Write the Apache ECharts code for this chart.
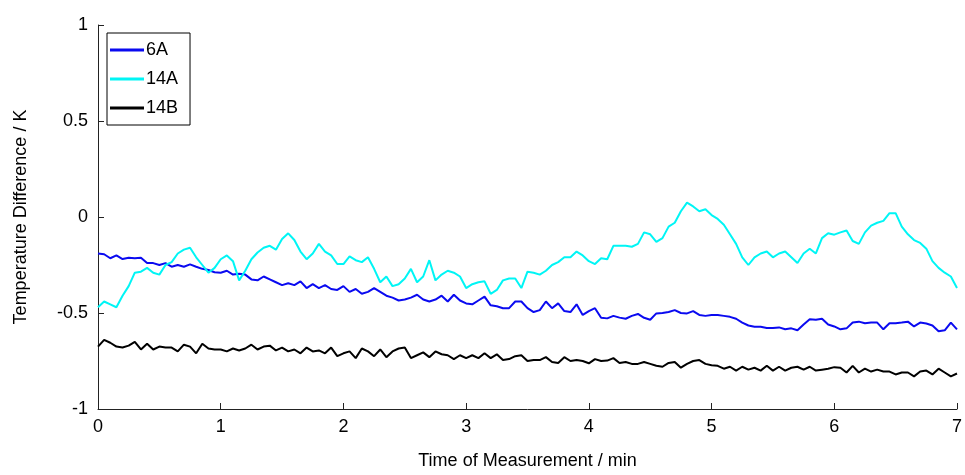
<!DOCTYPE html>
<html>
<head>
<meta charset="utf-8">
<script src="https://cdn.jsdelivr.net/npm/echarts@6/dist/echarts.min.js"></script>
<style>
    html, body { margin: 0; padding: 0; background: #fff; }
    #chart { width: 965px; height: 475px; }
</style>
</head>
<body>
<div id="chart"></div>
<script>
    // sampling every 0.05 min, 0 .. 7
    var timeStep = 0.05;
    var yTicks = ['-1', '-0.5', '0', '0.5', '1'];
    var seriesNames = ['6A', '14A', '14B'];

    var data6A = [
        -0.19,-0.194,-0.215,-0.20,-0.219,-0.212,-0.215,-0.212,-0.24,-0.24,-0.25,-0.24,-0.259,-0.25,-0.259,-0.247,-0.259,-0.27,-0.276,-0.288,-0.29,
        -0.28,-0.30,-0.295,-0.30,-0.325,-0.33,-0.31,-0.325,-0.34,-0.355,-0.345,-0.355,-0.335,-0.37,-0.35,-0.37,-0.355,-0.375,-0.38,-0.36,
        -0.39,-0.375,-0.40,-0.39,-0.37,-0.39,-0.41,-0.42,-0.435,-0.43,-0.42,-0.405,-0.43,-0.44,-0.43,-0.41,-0.44,-0.405,-0.435,-0.45,
        -0.455,-0.435,-0.415,-0.46,-0.465,-0.475,-0.475,-0.44,-0.44,-0.475,-0.495,-0.485,-0.44,-0.475,-0.45,-0.49,-0.495,-0.455,-0.51,-0.49,
        -0.475,-0.525,-0.528,-0.515,-0.524,-0.53,-0.515,-0.505,-0.525,-0.535,-0.502,-0.50,-0.495,-0.485,-0.50,-0.502,-0.49,-0.51,-0.515,-0.51,
        -0.51,-0.515,-0.52,-0.53,-0.55,-0.565,-0.572,-0.572,-0.578,-0.578,-0.575,-0.585,-0.58,-0.59,-0.56,-0.532,-0.535,-0.53,-0.56,-0.57,
        -0.585,-0.58,-0.55,-0.545,-0.553,-0.55,-0.55,-0.585,-0.553,-0.553,-0.55,-0.545,-0.57,-0.55,-0.555,-0.565,-0.595,-0.59,-0.55,-0.585
    ];
    var data14A = [
        -0.47,-0.44,-0.455,-0.47,-0.41,-0.36,-0.29,-0.285,-0.265,-0.29,-0.30,-0.25,-0.235,-0.19,-0.17,-0.16,-0.21,-0.25,-0.29,-0.265,-0.22,
        -0.20,-0.23,-0.33,-0.28,-0.22,-0.185,-0.16,-0.15,-0.17,-0.115,-0.085,-0.12,-0.18,-0.22,-0.19,-0.14,-0.18,-0.20,-0.245,-0.245,
        -0.205,-0.225,-0.235,-0.21,-0.27,-0.34,-0.31,-0.36,-0.35,-0.32,-0.27,-0.34,-0.31,-0.225,-0.33,-0.30,-0.28,-0.29,-0.31,-0.37,
        -0.35,-0.34,-0.335,-0.40,-0.38,-0.33,-0.32,-0.32,-0.37,-0.285,-0.29,-0.30,-0.28,-0.25,-0.235,-0.21,-0.21,-0.18,-0.20,-0.23,
        -0.245,-0.215,-0.22,-0.15,-0.15,-0.15,-0.155,-0.14,-0.08,-0.09,-0.13,-0.11,-0.05,-0.03,0.03,0.075,0.055,0.03,0.04,0.01,
        -0.01,-0.04,-0.09,-0.14,-0.21,-0.25,-0.21,-0.19,-0.18,-0.21,-0.19,-0.18,-0.21,-0.24,-0.19,-0.165,-0.19,-0.11,-0.085,-0.092,
        -0.08,-0.07,-0.125,-0.14,-0.08,-0.045,-0.03,-0.02,0.02,0.02,-0.05,-0.09,-0.12,-0.135,-0.165,-0.23,-0.265,-0.29,-0.31,-0.37
    ];
    var data14B = [
        -0.675,-0.64,-0.655,-0.675,-0.68,-0.67,-0.65,-0.69,-0.66,-0.69,-0.675,-0.68,-0.68,-0.70,-0.665,-0.675,-0.71,-0.66,-0.685,-0.69,-0.69,
        -0.70,-0.685,-0.695,-0.685,-0.665,-0.69,-0.675,-0.67,-0.695,-0.68,-0.70,-0.69,-0.71,-0.68,-0.70,-0.695,-0.71,-0.68,-0.725,-0.71,
        -0.70,-0.735,-0.685,-0.70,-0.725,-0.69,-0.73,-0.70,-0.685,-0.68,-0.735,-0.72,-0.705,-0.73,-0.70,-0.715,-0.72,-0.74,-0.72,-0.735,
        -0.72,-0.735,-0.71,-0.735,-0.715,-0.745,-0.74,-0.725,-0.72,-0.75,-0.745,-0.745,-0.73,-0.755,-0.76,-0.73,-0.75,-0.745,-0.75,-0.762,
        -0.74,-0.75,-0.748,-0.735,-0.76,-0.755,-0.765,-0.765,-0.755,-0.765,-0.775,-0.78,-0.76,-0.755,-0.785,-0.765,-0.75,-0.745,-0.765,-0.772,
        -0.775,-0.79,-0.78,-0.80,-0.78,-0.795,-0.785,-0.80,-0.775,-0.80,-0.78,-0.80,-0.785,-0.78,-0.795,-0.78,-0.80,-0.795,-0.79,-0.782,
        -0.785,-0.81,-0.775,-0.81,-0.79,-0.805,-0.795,-0.805,-0.805,-0.82,-0.81,-0.81,-0.83,-0.805,-0.80,-0.82,-0.79,-0.81,-0.83,-0.815
    ];

    function toPairs(values) {
        return values.map(function (v, i) {
            return [+(i * timeStep).toFixed(2), v];
        });
    }

    var font = 'Liberation Sans, Arial, Helvetica, sans-serif';
    var axisCommon = {
        axisLine: { show: true, onZero: false, lineStyle: { color: '#222', width: 1 } },
        axisTick: { show: true, inside: true, length: 6, lineStyle: { color: '#222' } },
        axisLabel: { color: '#000', fontSize: 18, fontFamily: font },
        splitLine: { show: false },
        nameTextStyle: { color: '#000', fontSize: 18, fontFamily: font }
    };

    var myChart = echarts.init(document.getElementById('chart'));
    var option = {
        animation: false,
        backgroundColor: '#fff',
        grid: { left: 98, right: 1, top: 25, bottom: 66 },
        legend: {
            data: seriesNames,
            orient: 'vertical',
            left: 107,
            top: 33,
            padding: [7, 12, 7, 3],
            itemGap: 9,
            itemWidth: 34,
            itemHeight: 3,
            icon: 'rect',
            borderColor: '#000',
            borderWidth: 1,
            backgroundColor: '#fff',
            textStyle: { color: '#000', fontSize: 18, fontFamily: font, lineHeight: 20, padding: [0, 0, 0, -3] }
        },
        xAxis: Object.assign({}, axisCommon, {
            type: 'value',
            min: 0, max: 7, interval: 1,
            name: 'Time of Measurement / min',
            nameLocation: 'middle',
            nameGap: 43,
            axisLabel: Object.assign({}, axisCommon.axisLabel, { margin: 9 })
        }),
        yAxis: Object.assign({}, axisCommon, {
            type: 'value',
            min: -1, max: 1, interval: 0.5,
            name: 'Temperature Difference / K',
            nameLocation: 'middle',
            nameGap: 68,
            axisLabel: Object.assign({}, axisCommon.axisLabel, {
                margin: 10,
                formatter: function (v) { return yTicks[Math.round((v + 1) / 0.5)]; }
            })
        }),
        series: [
            { name: seriesNames[0], type: 'line', data: toPairs(data6A), showSymbol: false,
              lineStyle: { color: '#0a0af0', width: 2 }, itemStyle: { color: '#0a0af0' } },
            { name: seriesNames[1], type: 'line', data: toPairs(data14A), showSymbol: false,
              lineStyle: { color: '#00f5f5', width: 2 }, itemStyle: { color: '#00f5f5' } },
            { name: seriesNames[2], type: 'line', data: toPairs(data14B), showSymbol: false,
              lineStyle: { color: '#000', width: 2 }, itemStyle: { color: '#000' } }
        ]
    };
    myChart.setOption(option);
</script>
</body>
</html>
